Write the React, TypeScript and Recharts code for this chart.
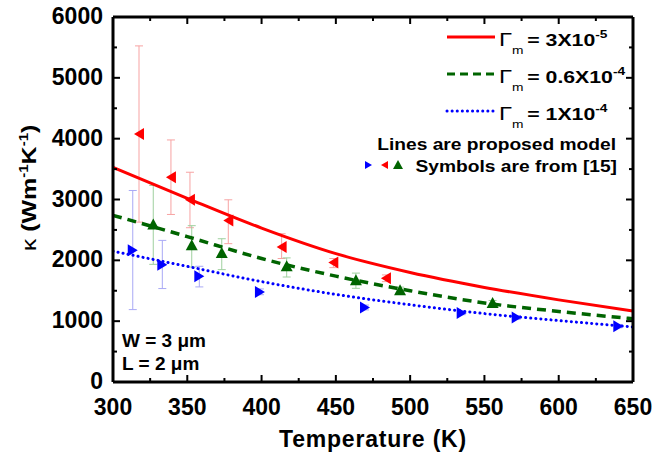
import React from "react";
import { ComposedChart, Line, Scatter, XAxis, YAxis, ErrorBar } from "recharts";

// ---------- data ----------
const xTicks = [300, 325, 350, 375, 400, 425, 450, 475, 500, 525, 550, 575, 600, 625, 650];
const yTicks = [0, 500, 1000, 1500, 2000, 2500, 3000, 3500, 4000, 4500, 5000, 5500, 6000];

const modelT = [300, 350, 400, 450, 500, 550, 600, 650];
const redModelK = [3530, 3020, 2530, 2110, 1800, 1555, 1350, 1165];
const greenModelK = [2740, 2390, 2030, 1740, 1500, 1300, 1160, 1040];
const blueModelK = [2150, 1900, 1650, 1440, 1270, 1125, 1010, 905];

const redExpT = [317.5, 339, 351.8, 377.6, 413.5, 448.3, 483.7];
const redExpK = [4077, 3366, 2995, 2656, 2218, 1965, 1705];
const redExpLow = [2628, 2754, 2536, 2274, 2030, 1880, 1650];
const redExpHigh = [5525, 3979, 3448, 2995, 2437, 2030, 1760];

const greenExpT = [327.1, 353, 373.2, 416.9, 463.5, 493.2, 555.5];
const greenExpK = [2590, 2246, 2120, 1902, 1672, 1508, 1300];
const greenExpLow = [1934, 1890, 1847, 1726, 1540, 1460, 1260];
const greenExpHigh = [3230, 2570, 2355, 2040, 1790, 1560, 1340];

const blueExpT = [313.3, 333.2, 358.1, 398.9, 469.6, 534.7, 571.7, 640.1];
const blueExpK = [2164, 1929, 1738, 1481, 1224, 1136, 1060, 918];
const blueExpLow = [1190, 1536, 1563, 1435, 1185, 1106, 1030, 890];
const blueExpHigh = [3148, 2328, 1902, 1530, 1265, 1166, 1090, 946];

const legendGamma = ["3X10", "0.6X10", "1X10"];
const legendExp = ["-5", "-4", "-4"];

// ---------- styles ----------
const RED = "#ff0000";
const GREEN = "#006400";
const BLUE = "#0000ff";
const FONT = "'Liberation Sans', Arial, sans-serif";

const model = (k: number[]) => modelT.map((t, i) => ({ t, k: k[i] }));
const exp = (T: number[], K: number[], lo: number[], hi: number[]) =>
  T.map((t, i) => ({ t, k: K[i], err: [K[i] - lo[i], hi[i] - K[i]] }));

const redLine = model(redModelK);
const greenLine = model(greenModelK);
const blueLine = model(blueModelK);
const redPts = exp(redExpT, redExpK, redExpLow, redExpHigh);
const greenPts = exp(greenExpT, greenExpK, greenExpLow, greenExpHigh);
const bluePts = exp(blueExpT, blueExpK, blueExpLow, blueExpHigh);

const isMajorX = (v: number) => v % 50 === 0;
const isMajorY = (v: number) => v % 1000 === 0;

const BottomTick = (p: any) => {
  const v = p.payload.value;
  const major = isMajorX(v);
  return (
    <g>
      <line x1={p.x} x2={p.x} y1={p.y} y2={p.y - (major ? 7 : 4)} stroke="#000" strokeWidth={2} />
      {major && (
        <text x={p.x} y={p.y + 33} textAnchor="middle" fontFamily={FONT} fontWeight="bold" fontSize={23} fill="#000">
          {v}
        </text>
      )}
    </g>
  );
};
const TopTick = (p: any) => {
  const major = isMajorX(p.payload.value);
  return <line x1={p.x} x2={p.x} y1={p.y} y2={p.y + (major ? 7 : 4)} stroke="#000" strokeWidth={2} />;
};
const LeftTick = (p: any) => {
  const v = p.payload.value;
  const major = isMajorY(v);
  return (
    <g>
      <line x1={p.x} x2={p.x + (major ? 7 : 4)} y1={p.y} y2={p.y} stroke="#000" strokeWidth={2} />
      {major && (
        <text x={p.x - 10} y={p.y + 7} textAnchor="end" fontFamily={FONT} fontWeight="bold" fontSize={23} fill="#000">
          {v}
        </text>
      )}
    </g>
  );
};
const RightTick = (p: any) => {
  const major = isMajorY(p.payload.value);
  return <line x1={p.x} x2={p.x - (major ? 7 : 4)} y1={p.y} y2={p.y} stroke="#000" strokeWidth={2} />;
};

const triLeft = (color: string) => (p: any) =>
  <polygon points={`${p.cx - 5},${p.cy} ${p.cx + 5},${p.cy - 6} ${p.cx + 5},${p.cy + 6}`} fill={color} />;
const triRight = (color: string) => (p: any) =>
  <polygon points={`${p.cx + 5},${p.cy} ${p.cx - 5},${p.cy - 6} ${p.cx - 5},${p.cy + 6}`} fill={color} />;
const triUp = (color: string) => (p: any) =>
  <polygon points={`${p.cx},${p.cy - 6} ${p.cx - 6},${p.cy + 5} ${p.cx + 6},${p.cy + 5}`} fill={color} />;
const none = () => <g />;

const axisLine = { stroke: "#000", strokeWidth: 3 };

function Overlay() {
  const t = { fontFamily: FONT, fontWeight: "bold" as const, fill: "#000" };
  const gamma = (y: number, i: number) => (
    <g transform={`translate(499,${y}) scale(1.25,1)`}>
      <text x={0} y={0} fontSize={19} fontFamily={FONT} fill="#000">
        Γ
        <tspan dx={0} dy={8} fontSize={11}>m</tspan>
        <tspan dx={3} dy={-8} fontSize={17} fontWeight="bold">= {legendGamma[i]}</tspan>
        <tspan dy={-8} fontSize={11} fontWeight="bold">{legendExp[i]}</tspan>
      </text>
    </g>
  );
  return (
    <svg width={655} height={457} style={{ position: "absolute", left: 0, top: 0, pointerEvents: "none" }}>
      <line x1={447} x2={495} y1={37} y2={37} stroke={RED} strokeWidth={3} />
      {gamma(46, 0)}
      <line x1={447} x2={495} y1={74} y2={74} stroke={GREEN} strokeWidth={3} strokeDasharray="8 5" />
      {gamma(83, 1)}
      <line x1={447} x2={495} y1={111} y2={111} stroke={BLUE} strokeWidth={3} strokeDasharray="0.1 5" strokeLinecap="round" />
      {gamma(120, 2)}
      <g transform="translate(616,150) scale(1.2,1)">
        <text x={0} y={0} textAnchor="end" fontSize={16} {...t}>Lines are proposed model</text>
      </g>
      <polygon points="372,165 365,161 365,169" fill={BLUE} />
      <polygon points="381,165 388,161 388,169" fill={RED} />
      <polygon points="398,160 393,169 403,169" fill={GREEN} />
      <g transform="translate(617,172) scale(1.2,1)">
        <text x={0} y={0} textAnchor="end" fontSize={16} {...t}>Symbols are from [15]</text>
      </g>
      <text x={122} y={347} fontSize={19} {...t}>W = 3 μm</text>
      <text x={122} y={370} fontSize={19} {...t}>L = 2 μm</text>
      <text x={373} y={447} textAnchor="middle" fontSize={23} letterSpacing={0.8} {...t}>Temperature (K)</text>
      <g transform="translate(36,188) rotate(-90) scale(1.25,1)">
        <text x={0} y={0} textAnchor="middle" fontSize={20} {...t}>
          <tspan fontWeight="normal">κ</tspan> (Wm<tspan dy={-8} fontSize={12}>-1</tspan><tspan dy={8}>K</tspan><tspan dy={-8} fontSize={12}>-1</tspan><tspan dy={8}>)</tspan>
        </text>
      </g>
    </svg>
  );
}

export default function App() {
  return (
    <div style={{ position: "absolute", left: 0, top: 0, width: 655, height: 457, background: "#fff" }}>
      <ComposedChart width={655} height={457} margin={{ top: 16, right: 21, bottom: 0, left: 0 }}>
        <XAxis dataKey="t" type="number" domain={[300, 650]} ticks={xTicks} interval={0} height={75}
          tickSize={0} tickMargin={0} tickLine={false} axisLine={axisLine} tick={BottomTick} allowDataOverflow />
        <XAxis xAxisId="top" orientation="top" dataKey="t" type="number" domain={[300, 650]} ticks={xTicks} interval={0} height={1}
          tickSize={0} tickMargin={0} tickLine={false} axisLine={axisLine} tick={TopTick} allowDataOverflow />
        <YAxis type="number" domain={[0, 6000]} ticks={yTicks} interval={0} width={113}
          tickSize={0} tickMargin={0} tickLine={false} axisLine={axisLine} tick={LeftTick} allowDataOverflow />
        <YAxis yAxisId="right" orientation="right" type="number" domain={[0, 6000]} ticks={yTicks} interval={0} width={1}
          tickSize={0} tickMargin={0} tickLine={false} axisLine={axisLine} tick={RightTick} allowDataOverflow />

        <Scatter data={redPts} dataKey="k" shape={none} isAnimationActive={false}>
          <ErrorBar dataKey="err" direction="y" width={4} stroke="#f7a3a3" strokeWidth={1} />
        </Scatter>
        <Scatter data={greenPts} dataKey="k" shape={none} isAnimationActive={false}>
          <ErrorBar dataKey="err" direction="y" width={4} stroke="#9fd09f" strokeWidth={1} />
        </Scatter>
        <Scatter data={bluePts} dataKey="k" shape={none} isAnimationActive={false}>
          <ErrorBar dataKey="err" direction="y" width={4} stroke="#a9a9f5" strokeWidth={1} />
        </Scatter>

        <Line data={redLine} dataKey="k" type="monotone" stroke={RED} strokeWidth={3} dot={false} isAnimationActive={false} />
        <Line data={greenLine} dataKey="k" type="monotone" stroke={GREEN} strokeWidth={3.5} strokeDasharray="9 6" dot={false} isAnimationActive={false} />
        <Line data={blueLine} dataKey="k" type="monotone" stroke={BLUE} strokeWidth={3} strokeDasharray="0.1 5" strokeLinecap="round" dot={false} isAnimationActive={false} />

        <Scatter data={redPts} dataKey="k" shape={triLeft(RED)} isAnimationActive={false} />
        <Scatter data={greenPts} dataKey="k" shape={triUp(GREEN)} isAnimationActive={false} />
        <Scatter data={bluePts} dataKey="k" shape={triRight(BLUE)} isAnimationActive={false} />
      </ComposedChart>
      <Overlay />
    </div>
  );
}
